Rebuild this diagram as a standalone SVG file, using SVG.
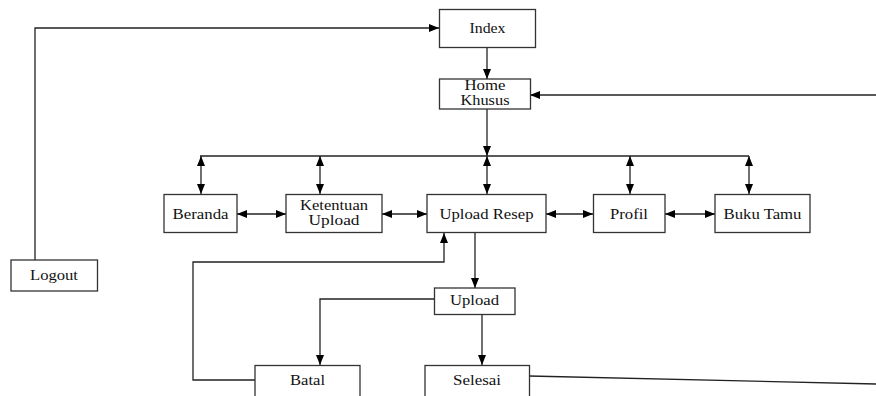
<svg xmlns="http://www.w3.org/2000/svg" width="876" height="396" viewBox="0 0 876 396">
<defs>
<marker id="ah" markerWidth="10" markerHeight="8" refX="10" refY="4" orient="auto-start-reverse" markerUnits="userSpaceOnUse">
<path d="M0,0 L10,4 L0,8 z" fill="#000"/>
</marker>
<style>
.box{fill:#fff;stroke:#333;stroke-width:1.3}
.t{font-family:"Liberation Serif","Times New Roman",serif;font-size:15px;fill:#111;text-anchor:middle}
.c{fill:none;stroke:#222;stroke-width:1.3}
.a{marker-end:url(#ah)}
.d{marker-start:url(#ah);marker-end:url(#ah)}
</style>
</defs>
<rect width="876" height="396" fill="#fff"/>
<g id="connectors">
<polyline class="c a" points="35,260 35,28 439,28"/>
<line class="c a" x1="487" y1="47" x2="487" y2="79"/>
<line class="c a" x1="876" y1="95" x2="530" y2="95"/>
<line class="c a" x1="487" y1="109" x2="487" y2="156"/>
<line class="c" x1="200" y1="156" x2="749" y2="156"/>
<line class="c d" x1="201" y1="156" x2="201" y2="194"/>
<line class="c d" x1="320" y1="156" x2="320" y2="194"/>
<line class="c d" x1="487" y1="156" x2="487" y2="194"/>
<line class="c d" x1="630" y1="156" x2="630" y2="194"/>
<line class="c d" x1="749" y1="156" x2="749" y2="194"/>
<line class="c d" x1="237" y1="214" x2="286" y2="214"/>
<line class="c d" x1="382" y1="214" x2="427" y2="214"/>
<line class="c d" x1="546" y1="214" x2="593" y2="214"/>
<line class="c d" x1="665" y1="214" x2="715" y2="214"/>
<polyline class="c a" points="255,380 193,380 193,262 444,262 444,233"/>
<line class="c a" x1="475" y1="233" x2="475" y2="288"/>
<polyline class="c a" points="434,299 320,299 320,365"/>
<line class="c a" x1="482" y1="314" x2="482" y2="365"/>
<line class="c" x1="529" y1="376" x2="876" y2="384"/>
</g>
<g id="index"><rect class="box" x="439.5" y="9.5" width="96" height="38"/><text class="t" x="487.5" y="33" textLength="36" lengthAdjust="spacingAndGlyphs">Index</text></g>
<g id="home"><rect class="box" x="439.5" y="79" width="91" height="30"/><text class="t" x="485" y="90" textLength="41" lengthAdjust="spacingAndGlyphs">Home</text><text class="t" x="485" y="105" textLength="49" lengthAdjust="spacingAndGlyphs">Khusus</text></g>
<g id="beranda"><rect class="box" x="164" y="194.5" width="73" height="38"/><text class="t" x="200.5" y="218.5" textLength="56" lengthAdjust="spacingAndGlyphs">Beranda</text></g>
<g id="ketentuan"><rect class="box" x="286" y="194.5" width="96" height="38"/><text class="t" x="334" y="210" textLength="68" lengthAdjust="spacingAndGlyphs">Ketentuan</text><text class="t" x="334" y="225" textLength="51" lengthAdjust="spacingAndGlyphs">Upload</text></g>
<g id="uploadresep"><rect class="box" x="427" y="194.5" width="119" height="38"/><text class="t" x="486.5" y="218.5" textLength="94" lengthAdjust="spacingAndGlyphs">Upload Resep</text></g>
<g id="profil"><rect class="box" x="593.5" y="194.5" width="71.5" height="38"/><text class="t" x="629" y="218.5" textLength="38" lengthAdjust="spacingAndGlyphs">Profil</text></g>
<g id="bukutamu"><rect class="box" x="715" y="194.5" width="95" height="38"/><text class="t" x="762.5" y="218.5" textLength="78" lengthAdjust="spacingAndGlyphs">Buku Tamu</text></g>
<g id="logout"><rect class="box" x="11" y="260" width="86.5" height="31"/><text class="t" x="54" y="280" textLength="48" lengthAdjust="spacingAndGlyphs">Logout</text></g>
<g id="upload"><rect class="box" x="434.5" y="288" width="80.5" height="26.5"/><text class="t" x="474.5" y="304.5" textLength="49" lengthAdjust="spacingAndGlyphs">Upload</text></g>
<g id="batal"><rect class="box" x="255" y="365.5" width="105" height="40"/><text class="t" x="307.5" y="385" textLength="35" lengthAdjust="spacingAndGlyphs">Batal</text></g>
<g id="selesai"><rect class="box" x="425" y="365.5" width="104.5" height="40"/><text class="t" x="477" y="385" textLength="48" lengthAdjust="spacingAndGlyphs">Selesai</text></g>
</svg>
